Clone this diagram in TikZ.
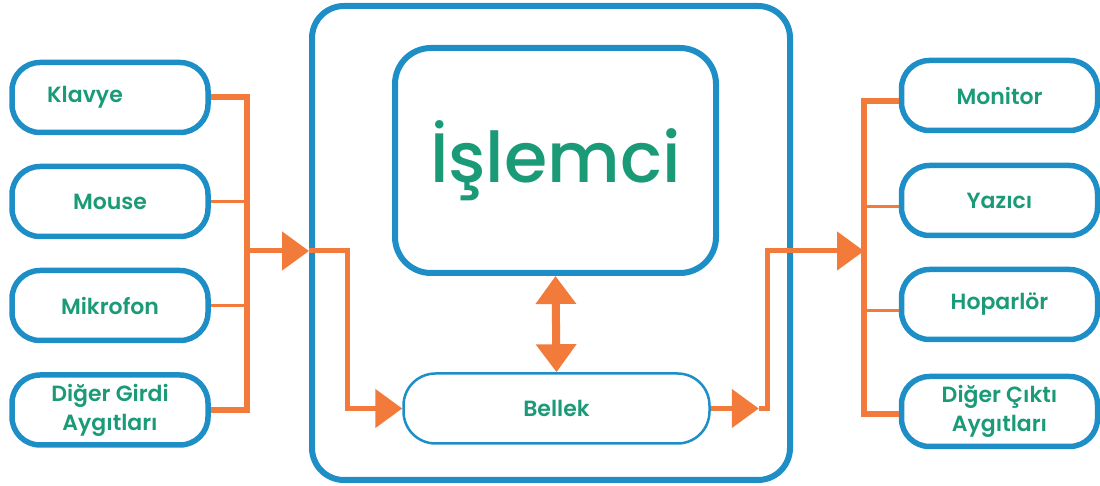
\documentclass[tikz,border=0pt]{standalone}
\usepackage{fontspec}
\setmainfont{Poppins}[BoldFont={Poppins SemiBold}]
\newfontfamily\cpufont{Poppins Medium}
\usetikzlibrary{arrows.meta}

\definecolor{boxblue}{RGB}{30,142,199}
\definecolor{txtgreen}{RGB}{27,154,120}
\definecolor{wireorange}{RGB}{242,122,58}

\begin{document}
\begin{tikzpicture}[x=1pt,y=1pt,
  device/.style={draw=boxblue, line width=5.5pt, rounded corners=28pt,
    minimum width=196pt, minimum height=70pt, align=center, text=txtgreen,
    font=\fontsize{22}{29}\selectfont\bfseries},
  wire/.style={wireorange, line width=5pt},
  thinwire/.style={wireorange, line width=3pt},
  tip/.style={-{Triangle[length=27pt,width=38pt]}}]

\useasboundingbox (0,0) rectangle (1100,486);

%\draw[help lines] (0,0) grid[step=50] (1100,486);

% input devices
\node[device] (klavye) at (110,388.5) {\raisebox{-3pt}{\hspace*{-50pt}Klavye}};
\node[device] (mouse) at (110,284.5) {Mouse};
\node[device] (mikrofon) at (110,180.5) {\raisebox{-3pt}{Mikrofon}};
\node[device] (digergirdi) at (110,76) {Diğer Girdi\\Aygıtları};

% output devices
\node[device] (monitor) at (999.5,390.5) {\raisebox{-3pt}{Monitor}};
\node[device] (yazici) at (999.5,285.5) {\raisebox{-2pt}{Yazıcı}};
\node[device] (hoparlor) at (999.5,181.5) {Hoparlör};
\node[device] (digercikti) at (999.5,74.5) {Diğer Çıktı\\Aygıtları};

% processor unit
\node[draw=boxblue, line width=6pt, rounded corners=32pt,
  minimum width=478pt, minimum height=474pt] (cpu) at (551,243) {};
\node[draw=boxblue, line width=6pt, rounded corners=36pt,
  minimum width=321pt, minimum height=225pt, text=txtgreen,
  font=\fontsize{70}{80}\selectfont\cpufont] (islemci) at (555.5,325.5) {\raisebox{-6pt}{İşlemci}};
\node[draw=boxblue, line width=2.5pt, rounded corners=32pt,
  minimum width=306pt, minimum height=70pt, text=txtgreen,
  font=\fontsize{22}{29}\selectfont\bfseries] (bellek) at (556.5,77.5) {\raisebox{-2pt}{Bellek}};

\coordinate (inbus) at (247,235);
\coordinate (outbus) at (864,235);

% inputs into memory
\draw[wire, line width=6pt] (klavye.east) -| (inbus) |- (digergirdi.east);
\draw[thinwire] (mouse.east) -- (mouse.east -| inbus);
\draw[thinwire] (mikrofon.east) -- (mikrofon.east -| inbus);
\draw[wire, tip] (inbus) -- (inbus -| cpu.west);
\draw[wire, tip] (inbus -| cpu.west) -- ++(38,0) |- (bellek.west);

% memory <-> processor
\draw[wireorange, line width=8pt,
  {Triangle[length=28pt,width=39pt]}-{Triangle[length=28pt,width=39pt]}]
  (islemci.south) -- (bellek.north);

% memory out to output devices
\draw[wire, tip] (bellek.east) -- ++(48,0) coordinate (belout);
\draw[wire] (belout) -- ++(9,0) |- ([xshift=-60pt]outbus);
\draw[wire, tip] ([xshift=-62pt]outbus) -- (outbus);
\draw[wire, line width=6pt] ([yshift=-6pt]monitor.west) -| (outbus) |- ([yshift=-3pt]digercikti.west);
\draw[thinwire] ([yshift=-6pt]yazici.west) -- ([yshift=-6pt]yazici.west -| outbus);
\draw[thinwire] ([yshift=-6pt]hoparlor.west) -- ([yshift=-6pt]hoparlor.west -| outbus);

\end{tikzpicture}
\end{document}
